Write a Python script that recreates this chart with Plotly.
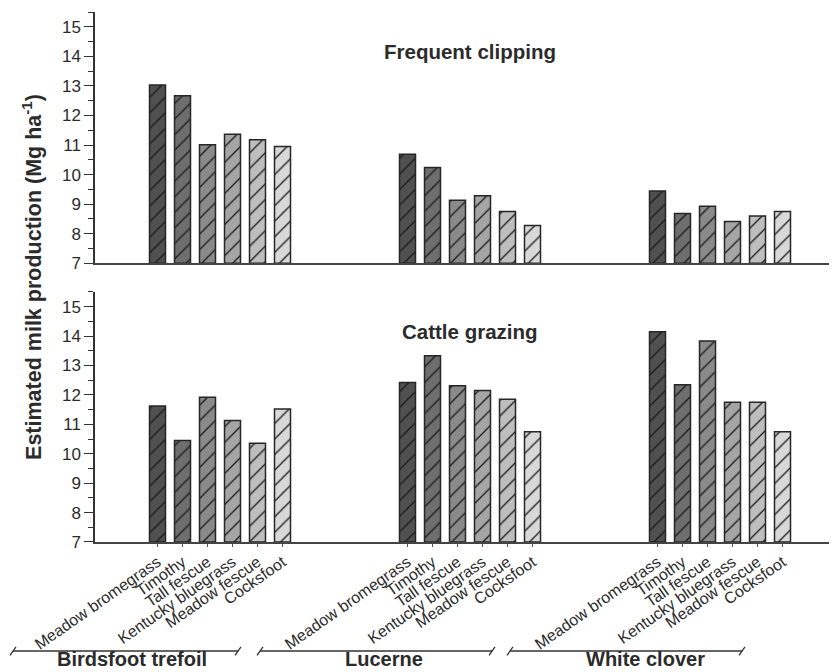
import plotly.graph_objects as go

# ---- data ----
legumes = ["Birdsfoot trefoil", "Lucerne", "White clover"]
grasses = ["Meadow bromegrass", "Timothy", "Tall fescue",
           "Kentucky bluegrass", "Meadow fescue", "Cocksfoot"]
# rows: grasses, columns: legumes
clipping = [
    [13.03, 10.69, 9.44],
    [12.67, 10.24, 8.68],
    [11.01, 9.13, 8.93],
    [11.36, 9.28, 8.41],
    [11.18, 8.75, 8.60],
    [10.95, 8.28, 8.75],
]
grazing = [
    [11.62, 12.42, 14.15],
    [10.45, 13.33, 12.35],
    [11.92, 12.31, 13.83],
    [11.13, 12.15, 11.75],
    [10.36, 11.85, 11.75],
    [11.52, 10.75, 10.75],
]
panel_titles = ["Frequent clipping", "Cattle grazing"]
y_title = "Estimated milk production (Mg ha<sup>-1</sup>)"
y_ticks = [7, 8, 9, 10, 11, 12, 13, 14, 15]

# ---- styles ----
fills = ["#505050", "#6e6e6e", "#8a8a8a", "#a5a5a5", "#bebebe", "#d8d8d8"]
FONT = "Liberation Sans, Arial, sans-serif"
TXT = "#2b2b2b"
GROUP_STEP = 10
FIRST = 2.5
XMAX = 29.68
label_shift = [-3.52, -3.45, -3.0]


def xpos(g, i):
    return FIRST + GROUP_STEP * g + i


def to_paper(x):
    return x / XMAX


fig = go.Figure()
for panel, (vals, xa, ya) in enumerate([(clipping, "x2", "y2"), (grazing, "x", "y")]):
    for i, name in enumerate(grasses):
        fig.add_trace(go.Bar(
            x=[xpos(g, i) for g in range(len(legumes))],
            y=[v - 7 for v in vals[i]],
            base=7,
            width=0.64,
            name=name,
            showlegend=False,
            xaxis=xa, yaxis=ya,
            marker=dict(
                color=fills[i],
                line=dict(color="#262626", width=1.5),
                pattern=dict(shape="/", fgcolor="#1a1a1a", bgcolor=fills[i],
                             size=11, solidity=0.12, fillmode="replace"),
            ),
            hovertemplate=name + ": %{y}<extra></extra>",
        ))

tickvals = [xpos(g, i) for g in range(len(legumes)) for i in range(len(grasses))]
ticktext = [grasses[i] for g in range(len(legumes)) for i in range(len(grasses))]

yax = dict(
    range=[7, 15.5], tickvals=y_ticks, ticks="outside", ticklen=9, tickwidth=1.3,
    tickcolor="#333", showline=True, linecolor="#333", linewidth=1.5,
    showgrid=False, zeroline=False, automargin=False,
    tickfont=dict(family=FONT, size=17, color=TXT),
    minor=dict(dtick=0.5, ticks="outside", ticklen=5, tickcolor="#333", tickwidth=1.3),
)

# the page adds an 8px body margin, so the figure is drawn 8px smaller
fig.update_layout(
    template="none",
    width=829, height=664,
    margin=dict(l=87, r=0, t=4, b=130),
    plot_bgcolor="white", paper_bgcolor="white",
    barmode="overlay",
    xaxis=dict(range=[0, XMAX], domain=[0, 1], tickvals=tickvals, ticktext=ticktext,
               tickangle=-35, ticks="outside", ticklen=3, tickcolor="#555",
               showline=True, linecolor="#444", linewidth=1.5, showgrid=False,
               zeroline=False, automargin=False,
               tickfont=dict(family=FONT, size=16, color=TXT),
               anchor="y"),
    xaxis2=dict(range=[0, XMAX], domain=[0, 1], showticklabels=False, ticks="",
                showline=True, linecolor="#444", linewidth=1.5, showgrid=False,
                zeroline=False, automargin=False, anchor="y2"),
    yaxis=dict(domain=[0, 0.4717], anchor="x", **yax),
    yaxis2=dict(domain=[0.526, 1], anchor="x2", **yax),
)

annotations = [
    dict(text="<b>" + panel_titles[0] + "</b>", x=15, y=14.15, xref="x2", yref="y2",
         showarrow=False, font=dict(family=FONT, size=20.5, color=TXT)),
    dict(text="<b>" + panel_titles[1] + "</b>", x=15, y=14.15, xref="x", yref="y",
         showarrow=False, font=dict(family=FONT, size=20.5, color=TXT)),
    dict(text="<b>" + y_title + "</b>", x=-0.085, y=0.5, xref="paper", yref="paper",
         xanchor="center", yanchor="middle",
         textangle=-90, showarrow=False, font=dict(family=FONT, size=21.5, color=TXT)),
]

shapes = []
line_y = -0.2057
for g, lg in enumerate(legumes):
    center = FIRST + GROUP_STEP * g + 2.5
    x0 = to_paper(center - 8.28)
    x1 = to_paper(center + 0.72)
    if g > 0:
        x0 = to_paper(center - 8.4)
        x1 = to_paper(center + 0.88)
    shapes.append(dict(type="line", xref="paper", yref="paper", x0=x0, x1=x1,
                       y0=line_y, y1=line_y, line=dict(color="#333", width=1.5)))
    for xe in (x0, x1):
        shapes.append(dict(type="line", xref="paper", yref="paper",
                           x0=xe - 0.004, x1=xe + 0.004,
                           y0=line_y - 0.008, y1=line_y + 0.008,
                           line=dict(color="#333", width=1.3)))
    annotations.append(dict(text="<b>" + lg + "</b>", x=to_paper(center + label_shift[g]),
                            y=-0.2443, xref="paper", yref="paper",
                            xanchor="center", yanchor="bottom",
                            showarrow=False, borderpad=0,
                            font=dict(family=FONT, size=20, color=TXT)))

fig.update_layout(annotations=annotations, shapes=shapes)
fig.write_html("out.html")
